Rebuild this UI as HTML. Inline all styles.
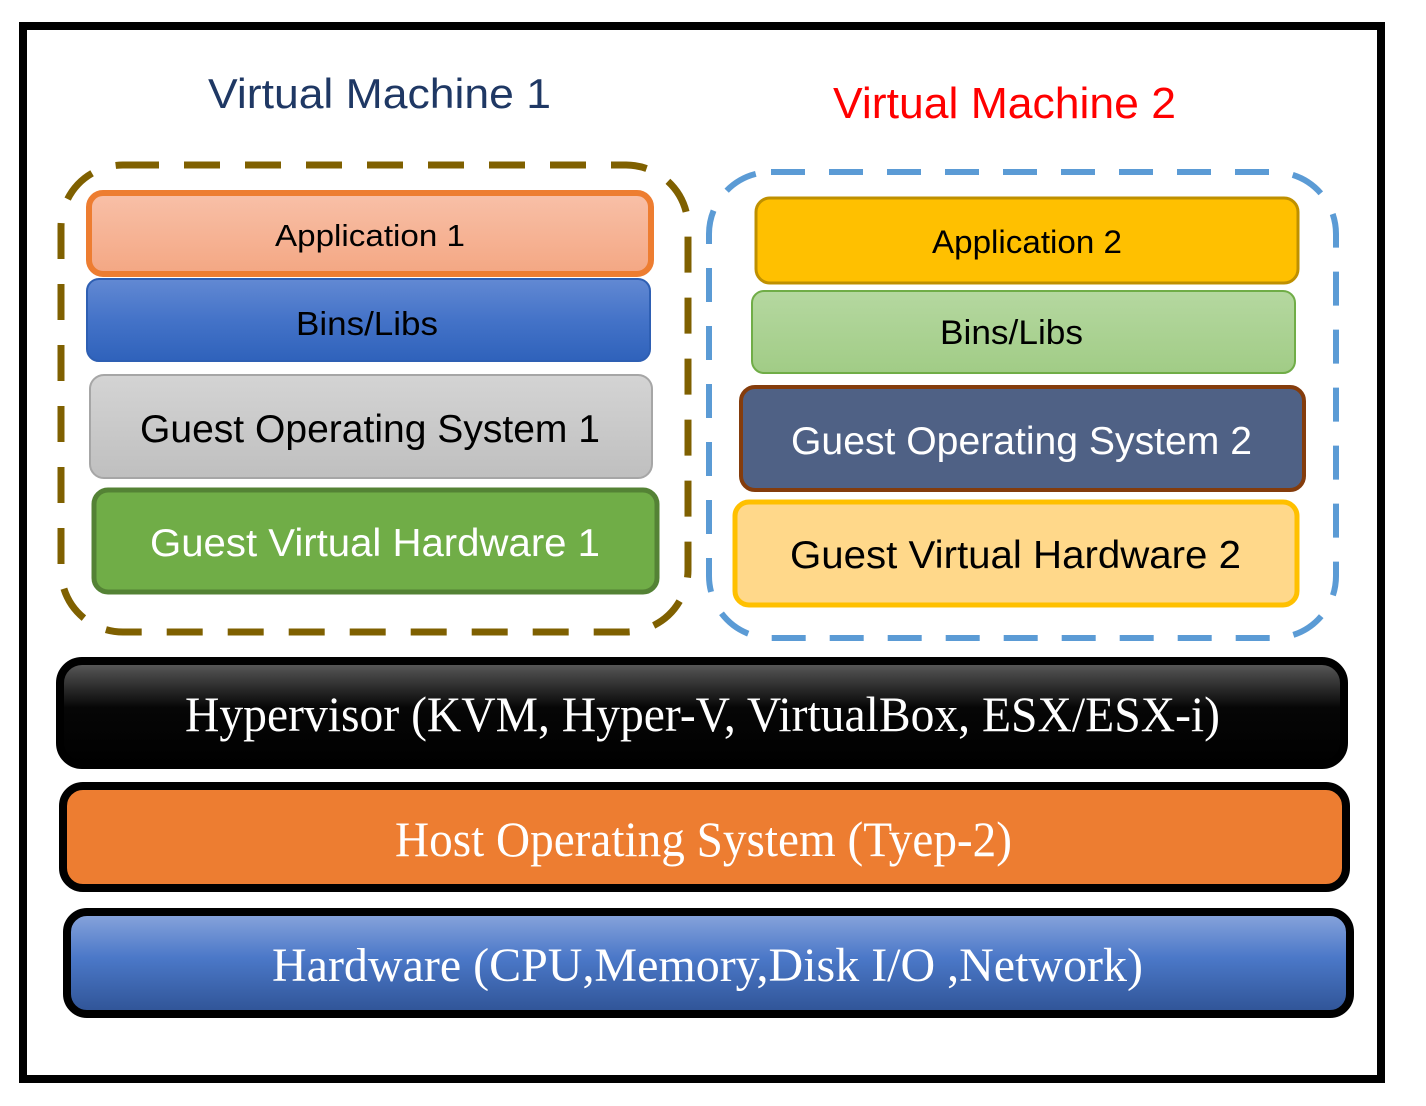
<!DOCTYPE html>
<html><head><meta charset="utf-8"><style>html,body{margin:0;padding:0;background:#fff}svg{display:block}</style></head>
<body>
<svg width="1426" height="1106" viewBox="0 0 1426 1106" xmlns="http://www.w3.org/2000/svg">
<defs>
<linearGradient id="gApp1" x1="0" y1="0" x2="0" y2="1"><stop offset="0" stop-color="#f8c0a8"/><stop offset="1" stop-color="#f4a783"/></linearGradient>
<linearGradient id="gBins1" x1="0" y1="0" x2="0" y2="1"><stop offset="0" stop-color="#6289d3"/><stop offset="0.5" stop-color="#4473c8"/><stop offset="1" stop-color="#2f62bb"/></linearGradient>
<linearGradient id="gGos1" x1="0" y1="0" x2="0" y2="1"><stop offset="0" stop-color="#d4d4d4"/><stop offset="1" stop-color="#bfbfbf"/></linearGradient>
<linearGradient id="gBins2" x1="0" y1="0" x2="0" y2="1"><stop offset="0" stop-color="#b5d8a0"/><stop offset="1" stop-color="#a1cc86"/></linearGradient>
<linearGradient id="gHyp" x1="0" y1="0" x2="0" y2="1"><stop offset="0" stop-color="#5e5e5e"/><stop offset="0.45" stop-color="#060606"/><stop offset="1" stop-color="#000"/></linearGradient>
<linearGradient id="gHw" x1="0" y1="0" x2="0" y2="1"><stop offset="0" stop-color="#8aa6dc"/><stop offset="0.45" stop-color="#4b78c8"/><stop offset="1" stop-color="#2f5395"/></linearGradient>
</defs>
<rect x="23" y="26" width="1358" height="1053" fill="#fff" stroke="#000" stroke-width="8"/>

<g font-family="Liberation Sans, sans-serif" lengthAdjust="spacingAndGlyphs">
<text x="208" y="108" font-size="42" fill="#1f3864" textLength="343" lengthAdjust="spacingAndGlyphs">Virtual Machine 1</text>
<text x="833" y="118" font-size="44" fill="#ff0000" textLength="343" lengthAdjust="spacingAndGlyphs">Virtual Machine 2</text>
</g>

<rect x="61" y="165" width="627" height="467" rx="62" fill="none" stroke="#7f6000" stroke-width="7" stroke-dasharray="36,25"/>
<rect x="709" y="172" width="627" height="466" rx="62" fill="none" stroke="#5b9bd5" stroke-width="6" stroke-dasharray="34,24"/>

<rect x="89" y="193" width="562" height="81" rx="14" fill="url(#gApp1)" stroke="#ed7d31" stroke-width="6"/>
<text x="275" y="246" font-family="Liberation Sans, sans-serif" font-size="31" fill="#000" textLength="190" lengthAdjust="spacingAndGlyphs">Application 1</text>

<rect x="87" y="279" width="563" height="82" rx="12" fill="url(#gBins1)" stroke="#2e5fb3" stroke-width="2"/>
<text x="296" y="335" font-family="Liberation Sans, sans-serif" font-size="33" fill="#000" textLength="142" lengthAdjust="spacingAndGlyphs">Bins/Libs</text>

<rect x="90" y="375" width="562" height="103" rx="14" fill="url(#gGos1)" stroke="#a6a6a6" stroke-width="2"/>
<text x="140" y="442" font-family="Liberation Sans, sans-serif" font-size="39" fill="#000" textLength="460" lengthAdjust="spacingAndGlyphs">Guest Operating System 1</text>

<rect x="94" y="490" width="563" height="102" rx="14" fill="#70ad47" stroke="#548235" stroke-width="5"/>
<text x="150" y="556" font-family="Liberation Sans, sans-serif" font-size="39" fill="#fff" textLength="450" lengthAdjust="spacingAndGlyphs">Guest Virtual Hardware 1</text>

<rect x="756" y="198" width="542" height="85" rx="14" fill="#ffc000" stroke="#bf9000" stroke-width="3"/>
<text x="932" y="253" font-family="Liberation Sans, sans-serif" font-size="32" fill="#000" textLength="190" lengthAdjust="spacingAndGlyphs">Application 2</text>

<rect x="752" y="291" width="543" height="82" rx="12" fill="url(#gBins2)" stroke="#70ad47" stroke-width="2"/>
<text x="940" y="344" font-family="Liberation Sans, sans-serif" font-size="34" fill="#000" textLength="143" lengthAdjust="spacingAndGlyphs">Bins/Libs</text>

<rect x="741" y="387" width="563" height="103" rx="14" fill="#4f6185" stroke="#843c0c" stroke-width="4"/>
<text x="791" y="454" font-family="Liberation Sans, sans-serif" font-size="39" fill="#fff" textLength="461" lengthAdjust="spacingAndGlyphs">Guest Operating System 2</text>

<rect x="735" y="502" width="562" height="103" rx="14" fill="#ffd88a" stroke="#ffc000" stroke-width="5"/>
<text x="790" y="568" font-family="Liberation Sans, sans-serif" font-size="39" fill="#000" textLength="451" lengthAdjust="spacingAndGlyphs">Guest Virtual Hardware 2</text>

<rect x="60" y="661" width="1284" height="104" rx="22" fill="url(#gHyp)" stroke="#000" stroke-width="8"/>
<text x="185" y="731" font-family="Liberation Serif, serif" font-size="50" fill="#fff" textLength="1035" lengthAdjust="spacingAndGlyphs">Hypervisor (KVM, Hyper-V, VirtualBox, ESX/ESX-i)</text>

<rect x="63" y="786" width="1283" height="102" rx="20" fill="#ed7d31" stroke="#000" stroke-width="8"/>
<text x="395" y="856" font-family="Liberation Serif, serif" font-size="50" fill="#fff" textLength="617" lengthAdjust="spacingAndGlyphs">Host Operating System (Tyep-2)</text>

<rect x="67" y="912" width="1283" height="102" rx="20" fill="url(#gHw)" stroke="#000" stroke-width="8"/>
<text x="272" y="981" font-family="Liberation Serif, serif" font-size="48" fill="#fff" textLength="871" lengthAdjust="spacingAndGlyphs">Hardware (CPU,Memory,Disk I/O ,Network)</text>
</svg>
</body></html>
